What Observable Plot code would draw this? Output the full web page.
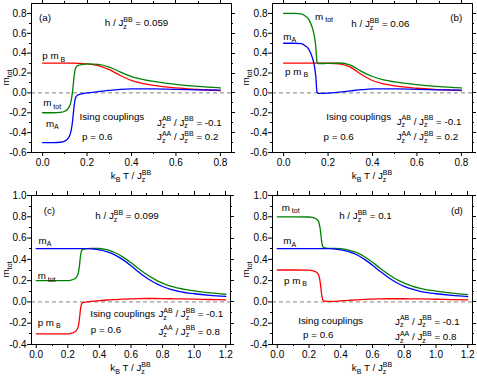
<!DOCTYPE html>
<html><head><meta charset="utf-8">
<script src="https://cdn.jsdelivr.net/npm/d3@7"></script>
<script src="https://cdn.jsdelivr.net/npm/@observablehq/plot@0.6"></script>
<style>
body{margin:0;background:#fff;}
#root{position:relative;width:477px;height:376px;background:#fff;font-family:"Liberation Sans",Arial,sans-serif;}
.panel{position:absolute;}
</style></head><body><div id="root"></div>
<script>
// ---------- tick values ----------
const xTicksAB = [0, 0.2, 0.4, 0.6, 0.8];
const xMinorAB = [0.1, 0.3, 0.5, 0.7];
const yTicksAB = [-0.6, -0.4, -0.2, 0, 0.2, 0.4, 0.6, 0.8];
const yMinorAB = [-0.5, -0.3, -0.1, 0.1, 0.3, 0.5, 0.7];
const xTicksCD = [0, 0.2, 0.4, 0.6, 0.8, 1.0, 1.2];
const xMinorCD = [0.1, 0.3, 0.5, 0.7, 0.9, 1.1];
const yTicksCD = [-0.4, -0.2, 0, 0.2, 0.4, 0.6, 0.8, 1.0];
const yMinorCD = [-0.3, -0.1, 0.1, 0.3, 0.5, 0.7, 0.9];

// ---------- panel (a) h/J = 0.059 ----------
const aT    = [0, 0.05, 0.08, 0.1, 0.11, 0.12, 0.125, 0.13, 0.135, 0.14, 0.145, 0.15, 0.16, 0.18, 0.2, 0.25, 0.3, 0.35, 0.4, 0.45, 0.5, 0.6, 0.7, 0.8];
const aMA   = [-0.5, -0.5, -0.497, -0.485, -0.47, -0.44, -0.41, -0.36, -0.28, -0.17, -0.08, -0.04, -0.02, -0.008, 0.0, 0.012, 0.025, 0.035, 0.04, 0.041, 0.04, 0.035, 0.031, 0.027];
const aPMB  = [0.3, 0.3, 0.3, 0.3, 0.3, 0.3, 0.3, 0.3, 0.3, 0.299, 0.299, 0.298, 0.297, 0.295, 0.292, 0.275, 0.235, 0.175, 0.125, 0.095, 0.075, 0.05, 0.034, 0.023];
const aMtot = [-0.2, -0.2, -0.197, -0.185, -0.17, -0.14, -0.11, -0.06, 0.02, 0.13, 0.22, 0.258, 0.277, 0.287, 0.292, 0.287, 0.26, 0.21, 0.165, 0.136, 0.115, 0.085, 0.065, 0.05];

// ---------- panel (b) h/J = 0.06 ----------
const bT    = [0, 0.05, 0.08, 0.1, 0.11, 0.12, 0.13, 0.135, 0.14, 0.145, 0.148, 0.15, 0.155, 0.16, 0.18, 0.2, 0.25, 0.3, 0.35, 0.4, 0.45, 0.5, 0.6, 0.7, 0.8];
const bMA   = [0.5, 0.5, 0.495, 0.47, 0.45, 0.41, 0.35, 0.31, 0.25, 0.16, 0.06, 0.01, -0.002, -0.004, -0.004, -0.002, 0.008, 0.02, 0.032, 0.04, 0.041, 0.04, 0.036, 0.031, 0.027];
const bPMB  = [0.3, 0.3, 0.3, 0.3, 0.3, 0.3, 0.3, 0.3, 0.3, 0.3, 0.3, 0.3, 0.3, 0.3, 0.3, 0.299, 0.293, 0.26, 0.185, 0.125, 0.09, 0.07, 0.047, 0.033, 0.023];
const bMtot = [0.8, 0.8, 0.795, 0.77, 0.75, 0.71, 0.65, 0.61, 0.55, 0.46, 0.36, 0.31, 0.298, 0.296, 0.296, 0.297, 0.301, 0.28, 0.217, 0.165, 0.131, 0.11, 0.083, 0.064, 0.05];

// ---------- panel (c) h/J = 0.099 ----------
const cT    = [0, 0.1, 0.2, 0.22, 0.24, 0.25, 0.26, 0.265, 0.27, 0.275, 0.28, 0.285, 0.29, 0.3, 0.32, 0.35, 0.4, 0.45, 0.5, 0.55, 0.6, 0.65, 0.7, 0.75, 0.8, 0.85, 0.9, 1.0, 1.1, 1.2];
const cMA   = [0.5, 0.5, 0.5, 0.5, 0.5, 0.5, 0.5, 0.5, 0.5, 0.5, 0.5, 0.5, 0.5, 0.5, 0.5, 0.498, 0.49, 0.47, 0.44, 0.395, 0.34, 0.28, 0.225, 0.18, 0.145, 0.118, 0.1, 0.077, 0.062, 0.052];
const cPMB  = [-0.3, -0.3, -0.3, -0.295, -0.285, -0.275, -0.255, -0.235, -0.2, -0.14, -0.07, -0.03, -0.012, -0.004, 0.0, 0.005, 0.012, 0.018, 0.022, 0.026, 0.029, 0.031, 0.032, 0.032, 0.031, 0.03, 0.029, 0.026, 0.023, 0.02];
const cMtot = [0.2, 0.2, 0.2, 0.205, 0.215, 0.225, 0.245, 0.265, 0.3, 0.36, 0.43, 0.47, 0.488, 0.496, 0.5, 0.503, 0.502, 0.488, 0.462, 0.421, 0.369, 0.311, 0.257, 0.212, 0.176, 0.148, 0.129, 0.103, 0.085, 0.072];

// ---------- panel (d) h/J = 0.1 ----------
const dT    = [0, 0.1, 0.2, 0.22, 0.24, 0.25, 0.26, 0.265, 0.27, 0.275, 0.28, 0.285, 0.29, 0.3, 0.32, 0.35, 0.4, 0.45, 0.5, 0.55, 0.6, 0.65, 0.7, 0.75, 0.8, 0.85, 0.9, 1.0, 1.1, 1.2];
const dMA   = [0.5, 0.5, 0.5, 0.5, 0.5, 0.5, 0.5, 0.5, 0.5, 0.5, 0.5, 0.5, 0.5, 0.5, 0.5, 0.498, 0.49, 0.472, 0.443, 0.4, 0.345, 0.285, 0.23, 0.183, 0.147, 0.12, 0.1, 0.077, 0.061, 0.05];
const dPMB  = [0.3, 0.3, 0.298, 0.295, 0.285, 0.275, 0.255, 0.23, 0.19, 0.13, 0.065, 0.028, 0.014, 0.007, 0.004, 0.005, 0.01, 0.015, 0.02, 0.024, 0.027, 0.029, 0.03, 0.03, 0.03, 0.029, 0.028, 0.025, 0.022, 0.019];
const dMtot = [0.8, 0.8, 0.798, 0.795, 0.785, 0.775, 0.755, 0.73, 0.69, 0.63, 0.565, 0.528, 0.514, 0.507, 0.504, 0.503, 0.5, 0.487, 0.463, 0.424, 0.372, 0.314, 0.26, 0.213, 0.177, 0.149, 0.128, 0.102, 0.083, 0.069];

// ---------- texts ----------
const hLabel = v => [["h / J",""],["z","sub"],["BB","over"],[" = " + v,""]];
const jLabel = (a, v) => [["J",""],["z","sub"],[a,"over"],[" / J",""],["z","sub"],["BB","over"],[" = " + v,""]];
const mTot = [["m",""],[" tot","sub"]];
const mA = [["m",""],["A","sub"]];
const pmB = [["p m",""],[" B","sub"]];
const ising = [["Ising couplings",""]];
const pEq = [["p = 0.6",""]];
const xLab = [["k",""],["B","sub"],[" T / J",""],["z","sub"],["BB","over"]];
const yLab = [["m",""],["tot","sub"]];

const RED = "#ff0000", GREEN = "#008000", BLUE = "#0000ff";

const panels = [
  {left:0, top:0, w:238, h:188, m:[3,7,36,31], xd:[-0.05,0.85], yd:[-0.6,0.9],
   xt:xTicksAB, xm:xMinorAB, yt:yTicksAB, ym:yMinorAB, T:aT, A:aMA, B:aPMB, M:aMtot,
   notes:[[-0.014,0.75,[["(a)",""]]],[0.282,0.70,hLabel("0.059")],[0.001,0.37,pmB],[0.005,-0.105,mTot],[0.017,-0.312,mA],
          [0.168,-0.24,ising],[0.18,-0.44,pEq],[0.517,-0.3,jLabel("AB","-0.1")],[0.517,-0.445,jLabel("AA","0.2")]]},
  {left:240, top:0, w:237, h:188, m:[3,5,36,32], xd:[-0.05,0.85], yd:[-0.6,0.9],
   xt:xTicksAB, xm:xMinorAB, yt:yTicksAB, ym:yMinorAB, T:bT, A:bMA, B:bPMB, M:bMtot,
   notes:[[0.144,0.766,mTot],[0.307,0.693,hLabel("0.06")],[0.752,0.75,[["(b)",""]]],[0.001,0.565,mA],[0.009,0.214,pmB],
          [0.194,-0.238,ising],[0.182,-0.44,pEq],[0.511,-0.288,jLabel("AB","-0.1")],[0.511,-0.446,jLabel("AA","0.2")]]},
  {left:0, top:190, w:238, h:186, m:[5,8,32,31], xd:[-0.03,1.23], yd:[-0.4,1.0],
   xt:xTicksCD, xm:xMinorCD, yt:yTicksCD, ym:yMinorCD, T:cT, A:cMA, B:cPMB, M:cMtot,
   notes:[[0.05,0.853,[["(c)",""]]],[0.377,0.806,hLabel("0.099")],[0.018,0.577,mA],[0.012,0.242,mTot],[0.012,-0.197,pmB],
          [0.345,-0.118,ising],[0.349,-0.265,pEq],[0.777,-0.118,jLabel("AB","-0.1")],[0.777,-0.281,jLabel("AA","0.8")]]},
  {left:240, top:190, w:237, h:186, m:[5,5,32,32], xd:[-0.03,1.23], yd:[-0.4,1.0],
   xt:xTicksCD, xm:xMinorCD, yt:yTicksCD, ym:yMinorCD, T:dT, A:dMA, B:dPMB, M:dMtot,
   notes:[[0.031,0.884,mTot],[0.393,0.806,hLabel("0.1")],[1.097,0.853,[["(d)",""]]],[0.041,0.572,mA],[0.046,0.197,pmB],
          [0.135,-0.178,ising],[0.166,-0.315,pEq],[0.745,-0.185,jLabel("AB","-0.1")],[0.745,-0.33,jLabel("AA","0.8")]]}
];

const FS = 9.8, SFS = 7, TFS = 10;
function rich(sel, x, y, parts, anchor) {
  const t = sel.append("text").attr("x", x).attr("y", y).attr("font-size", FS)
    .attr("fill", "black").attr("stroke", "none").attr("text-anchor", anchor || "start")
    .attr("font-family", '"Liberation Sans", Arial, sans-serif');
  let cur = 0, lastW = 0;
  for (const [s, kind] of parts) {
    const target = kind === "sub" ? 2.5 : (kind === "sup" || kind === "over") ? -4.5 : 0;
    const ts = t.append("tspan").text(s);
    if (target - cur !== 0) ts.attr("dy", target - cur);
    if (kind) ts.attr("font-size", SFS);
    if (kind === "over") ts.attr("dx", -lastW);
    if (kind === "sub") lastW = ts.node().getComputedTextLength();
    cur = target;
  }
  return t;
}

const root = document.getElementById("root");
const fmt = d => (Math.abs(d) < 1e-9 ? 0 : d).toFixed(1);

for (const p of panels) {
  const rows = p.T.map((t, i) => ({T: t, A: p.A[i], B: p.B[i], M: p.M[i]}));
  const plot = Plot.plot({
    width: p.w, height: p.h,
    marginTop: p.m[0], marginRight: p.m[1], marginBottom: p.m[2], marginLeft: p.m[3],
    x: {domain: p.xd, label: null, ticks: p.xt, tickSize: 4, tickPadding: 2, tickFormat: fmt},
    y: {domain: p.yd, label: null, ticks: p.yt, tickSize: 4, tickPadding: 1, tickFormat: fmt},
    style: {fontFamily: '"Liberation Sans", Arial, sans-serif', fontSize: TFS + "px", color: "black", background: "white", overflow: "visible"},
    marks: [
      Plot.ruleY([0], {stroke: "#808080", strokeWidth: 1, strokeDasharray: "4,3"}),
      Plot.line(rows, {x: "T", y: "B", stroke: RED, strokeWidth: 1.3, curve: "monotone-x"}),
      Plot.line(rows, {x: "T", y: "M", stroke: GREEN, strokeWidth: 1.3, curve: "monotone-x"}),
      Plot.line(rows, {x: "T", y: "A", stroke: BLUE, strokeWidth: 1.3, curve: "monotone-x"}),
      Plot.frame({stroke: "black", strokeWidth: 1})
    ]
  });
  const wrap = document.createElement("div");
  wrap.className = "panel";
  wrap.style.left = p.left + "px";
  wrap.style.top = p.top + "px";
  wrap.appendChild(plot);
  root.appendChild(wrap);

  const sx = plot.scale("x"), sy = plot.scale("y");
  const svg = d3.select(plot);
  const fx0 = p.m[3], fx1 = p.w - p.m[1], fy0 = p.m[0], fy1 = p.h - p.m[2];
  // minor ticks and mirrored ticks on all sides
  const tk = svg.append("g").attr("stroke", "black").attr("stroke-width", 1);
  const xTickSet = [...p.xt.map(v => [v, 4]), ...p.xm.map(v => [v, 2])];
  const yTickSet = [...p.yt.map(v => [v, 4]), ...p.ym.map(v => [v, 2])];
  for (const [v, len] of xTickSet) {
    const x = Math.round(sx.apply(v)) + 0.5;
    if (len === 2) tk.append("line").attr("x1", x).attr("x2", x).attr("y1", fy1).attr("y2", fy1 + len);
    tk.append("line").attr("x1", x).attr("x2", x).attr("y1", fy0).attr("y2", fy0 - len);
  }
  for (const [v, len] of yTickSet) {
    const y = Math.round(sy.apply(v)) + 0.5;
    if (len === 2) tk.append("line").attr("x1", fx0).attr("x2", fx0 - len).attr("y1", y).attr("y2", y);
    tk.append("line").attr("x1", fx1).attr("x2", fx1 + len).attr("y1", y).attr("y2", y);
  }
  const g = svg.append("g");
  for (const [x, y, parts] of p.notes) {
    rich(g, sx.apply(x), sy.apply(y) + 3.5, parts);
  }
  rich(g, (fx0 + fx1) / 2, fy1 + 27, xLab, "middle");
  const yl = rich(g, 0, 0, yLab, "middle");
  yl.attr("transform", `translate(9,${(fy0 + fy1) / 2}) rotate(-90)`);
}
</script></body></html>
